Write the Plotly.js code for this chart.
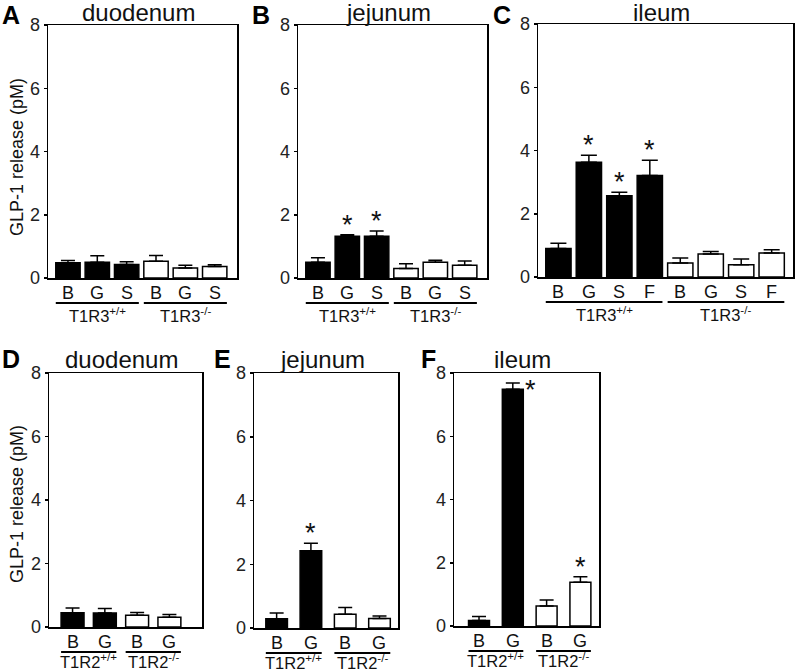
<!DOCTYPE html>
<html>
<head>
<meta charset="utf-8">
<script src="https://cdn.plot.ly/plotly-3.0.1.min.js"></script>
<style>html,body{margin:0;padding:0;background:#fff;}#chart{width:797px;height:672px;}</style>
</head>
<body>
<div id="chart"></div>
<script>
// ---------- data ----------
const catsT1R3 = ['B', 'G', 'S'];
const catsIleumT1R3 = ['B', 'G', 'S', 'F'];
const catsT1R2 = ['B', 'G'];
const groupsT1R3 = ['T1R3<sup>+/+</sup>', 'T1R3<sup>-/-</sup>'];
const groupsT1R2 = ['T1R2<sup>+/+</sup>', 'T1R2<sup>-/-</sup>'];
const panelTitles = ['duodenum', 'jejunum', 'ileum', 'duodenum', 'jejunum', 'ileum'];
const panelLetters = ['A', 'B', 'C', 'D', 'E', 'F'];
const yTicks = [0, 2, 4, 6, 8];
const yTitle = 'GLP-1 release (pM)';

// A: duodenum T1R3
const A_wt = [0.48, 0.50, 0.43], A_wtErr = [0.07, 0.20, 0.08], A_wtSig = [0, 0, 0];
const A_ko = [0.53, 0.32, 0.36], A_koErr = [0.18, 0.08, 0.06], A_koSig = [0, 0, 0];
// B: jejunum T1R3
const B_wt = [0.50, 1.32, 1.32], B_wtErr = [0.14, 0.05, 0.17], B_wtSig = [0, 1, 1];
const B_ko = [0.30, 0.50, 0.40], B_koErr = [0.15, 0.06, 0.14], B_koSig = [0, 0, 0];
// C: ileum T1R3
const C_wt = [0.90, 3.63, 2.57, 3.21], C_wtErr = [0.17, 0.22, 0.11, 0.48], C_wtSig = [0, 1, 1, 1];
const C_ko = [0.44, 0.73, 0.39, 0.76], C_koErr = [0.16, 0.08, 0.18, 0.10], C_koSig = [0, 0, 0, 0];
// D: duodenum T1R2
const D_wt = [0.45, 0.44], D_wtErr = [0.15, 0.14], D_wtSig = [0, 0];
const D_ko = [0.37, 0.31], D_koErr = [0.09, 0.08], D_koSig = [0, 0];
// E: jejunum T1R2
const E_wt = [0.29, 2.42], E_wtErr = [0.18, 0.24], E_wtSig = [0, 1];
const E_ko = [0.43, 0.30], E_koErr = [0.21, 0.08], E_koSig = [0, 0];
// F: ileum T1R2
const F_wt = [0.17, 7.49], F_wtErr = [0.13, 0.19], F_wtSig = [0, 1];
const F_ko = [0.63, 1.38], F_koErr = [0.19, 0.18], F_koSig = [0, 1];

// ---------- layout geometry (pixels) ----------
const W = 797, H = 672;
const FONT = 'Liberation Sans, Arial, Helvetica, sans-serif';
const panels = [
  {cats: catsT1R3, groups: groupsT1R3, wt: A_wt, wtErr: A_wtErr, wtSig: A_wtSig, ko: A_ko, koErr: A_koErr, koSig: A_koSig,
   px: [48, 237], py: [25, 278], range: [-0.68, 5.76], bw: 0.83, cap: 7, letter: [11, 15], title: 12, grp: -37, yt: 157},
  {cats: catsT1R3, groups: groupsT1R3, wt: B_wt, wtErr: B_wtErr, wtSig: B_wtSig, ko: B_ko, koErr: B_koErr, koSig: B_koSig,
   px: [298, 487], py: [25, 278], range: [-0.68, 5.76], bw: 0.83, cap: 7, letter: [261, 15], title: 12, grp: -37},
  {cats: catsIleumT1R3, groups: groupsT1R3, wt: C_wt, wtErr: C_wtErr, wtSig: C_wtSig, ko: C_ko, koErr: C_koErr, koSig: C_koSig,
   px: [538, 793], py: [24, 277], range: [-0.67, 7.70], bw: 0.83, cap: 8, letter: [502, 15], title: 12, grp: -37},
  {cats: catsT1R2, groups: groupsT1R2, wt: D_wt, wtErr: D_wtErr, wtSig: D_wtSig, ko: D_ko, koErr: D_koErr, koSig: D_koSig,
   px: [49, 202], py: [373, 627], range: [-0.73, 4.01], bw: 0.71, cap: 7, letter: [11, 359], title: 359, grp: -34, yt: 504},
  {cats: catsT1R2, groups: groupsT1R2, wt: E_wt, wtErr: E_wtErr, wtSig: E_wtSig, ko: E_ko, koErr: E_koErr, koSig: E_koSig,
   px: [254, 398], py: [373, 628], range: [-0.66, 3.54], bw: 0.63, cap: 7, letter: [222, 359], title: 359, grp: -34},
  {cats: catsT1R2, groups: groupsT1R2, wt: F_wt, wtErr: F_wtErr, wtSig: F_wtSig, ko: F_ko, koErr: F_koErr, koSig: F_koSig,
   px: [454, 599], py: [373, 626], range: [-0.74, 3.55], bw: 0.62, cap: 7, letter: [428, 359], title: 359, grp: -34}
];

const data = [], annotations = [], shapes = [];
const layout = {
  width: W, height: H, autosize: false,
  margin: {l: 0, r: 0, t: 0, b: 0},
  paper_bgcolor: '#fff', plot_bgcolor: '#fff',
  showlegend: false, bargap: 0,
  font: {family: FONT, color: '#111'}
};

panels.forEach((p, i) => {
  const n = i + 1;
  const xa = n === 1 ? 'x' : 'x' + n, ya = n === 1 ? 'y' : 'y' + n;
  const xk = n === 1 ? 'xaxis' : 'xaxis' + n, yk = n === 1 ? 'yaxis' : 'yaxis' + n;
  const k = p.cats.length;
  const xWt = p.cats.map((c, j) => j);
  const xKo = p.cats.map((c, j) => j + k);

  layout[xk] = {
    domain: [p.px[0] / W, p.px[1] / W], anchor: ya, range: p.range,
    showgrid: false, zeroline: false, showline: true, mirror: true,
    linecolor: '#000', linewidth: 1.5, ticks: '', showticklabels: false, fixedrange: true
  };
  layout[yk] = {
    domain: [1 - p.py[1] / H, 1 - p.py[0] / H], anchor: xa, range: [0, 8],
    tickvals: yTicks, ticktext: yTicks.map(String),
    showgrid: false, zeroline: false, showline: true, mirror: true,
    linecolor: '#000', linewidth: 1.5, ticks: 'outside', ticklen: 3, tickwidth: 1.5, tickcolor: '#000',
    tickfont: {family: FONT, size: 18, color: '#222'}, fixedrange: true
  };

  const mk = (xs, ys, errs, fill) => ({
    type: 'bar', x: xs, y: ys, width: p.bw, xaxis: xa, yaxis: ya,
    marker: {color: fill, line: {color: '#000', width: 1.5}},
    error_y: {type: 'data', array: errs, arrayminus: errs.map(() => 0), symmetric: false,
              color: '#000', thickness: 1.5, width: p.cap},
    hoverinfo: 'skip'
  });
  data.push(mk(xWt, p.wt, p.wtErr, '#000'));
  data.push(mk(xKo, p.ko, p.koErr, '#fff'));

  // significance asterisks
  const addSig = (xs, ys, errs, sig) => {
    sig.forEach((s, j) => {
      if (!s) return;
      const top = ys[j] + errs[j];
      const beside = top + 0.55 > 8;
      annotations.push({
        xref: xa, yref: ya, x: xs[j], y: top, text: '*', showarrow: false,
        xanchor: 'center', yanchor: 'middle',
        xshift: beside ? 18 : 0, yshift: beside ? -7 : 10,
        font: {family: FONT, size: 27, color: '#111'}
      });
    });
  };
  addSig(xWt, p.wt, p.wtErr, p.wtSig);
  addSig(xKo, p.ko, p.koErr, p.koSig);

  // category labels under bars
  [xWt, xKo].forEach(xs => xs.forEach((x, j) => {
    annotations.push({
      xref: xa, yref: ya + ' domain', x: x, y: 0, yshift: -15, text: p.cats[j], showarrow: false,
      xanchor: 'center', yanchor: 'middle', font: {family: FONT, size: 18, color: '#111'}
    });
  }));

  // group underlines and labels
  [xWt, xKo].forEach((xs, g) => {
    const x0 = xs[0] - p.bw / 2, x1 = xs[xs.length - 1] + p.bw / 2;
    shapes.push({
      type: 'line', xref: xa, yref: ya + ' domain', x0: x0, x1: x1,
      ysizemode: 'pixel', yanchor: 0, y0: -25, y1: -25,
      line: {color: '#000', width: 2}
    });
    annotations.push({
      xref: xa, yref: ya + ' domain', x: (x0 + x1) / 2, y: 0, yshift: p.grp,
      text: p.groups[g], showarrow: false, xanchor: 'center', yanchor: 'middle',
      font: {family: FONT, size: 16.5, color: '#111'}
    });
  });

  // panel title
  annotations.push({
    xref: 'paper', yref: 'paper', x: ((p.px[0] + p.px[1]) / 2 - 4) / W, y: 1 - p.title / H,
    text: panelTitles[i], showarrow: false, xanchor: 'center', yanchor: 'middle',
    font: {family: FONT, size: 24, color: '#111'}
  });
  // panel letter
  annotations.push({
    xref: 'paper', yref: 'paper', x: p.letter[0] / W, y: 1 - p.letter[1] / H,
    text: '<b>' + panelLetters[i] + '</b>', showarrow: false, xanchor: 'center', yanchor: 'middle',
    font: {family: FONT, size: 25, color: '#000'}
  });
  // y-axis title
  if (p.yt) {
    annotations.push({
      xref: 'paper', yref: 'paper', x: 17 / W, y: 1 - p.yt / H,
      text: yTitle, showarrow: false, textangle: -90, xanchor: 'center', yanchor: 'middle',
      font: {family: FONT, size: 18, color: '#111'}
    });
  }
});

layout.annotations = annotations;
layout.shapes = shapes;
Plotly.newPlot('chart', data, layout, {displayModeBar: false, staticPlot: true});
</script>
</body>
</html>
